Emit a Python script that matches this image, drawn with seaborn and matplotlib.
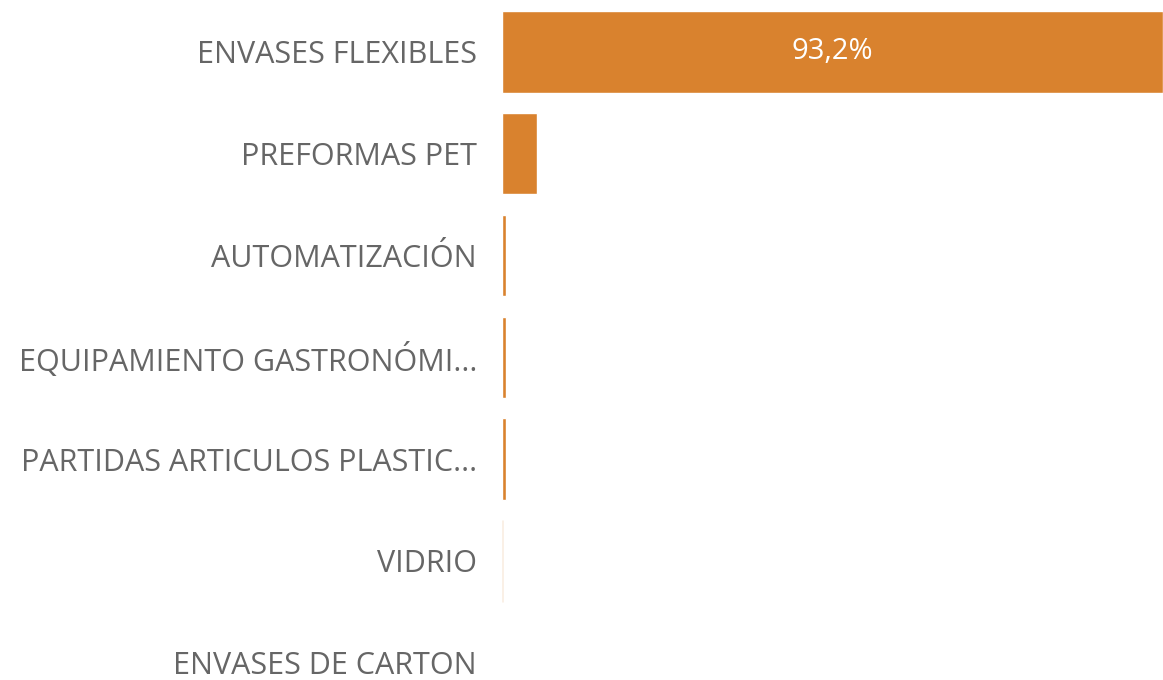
import matplotlib
matplotlib.use('Agg')
import matplotlib.pyplot as plt
import pandas as pd
import seaborn as sns

categorias = ['ENVASES FLEXIBLES', 'PREFORMAS PET', 'AUTOMATIZACIÓN',
              'EQUIPAMIENTO GASTRONÓMI...', 'PARTIDAS ARTICULOS PLASTIC...',
              'VIDRIO', 'ENVASES DE CARTON']
porcentajes = [93.2, 4.9, 0.6, 0.6, 0.5, 0.12, 0.05]

df = pd.DataFrame({'categoria': categorias, 'pct': porcentajes})

sns.set_theme(style='white')
plt.rcParams['font.family'] = ['Open Sans', 'DejaVu Sans']

fig = plt.figure(figsize=(11.63, 6.8), dpi=100)
ax = fig.add_axes([502 / 1163, 0, 661 / 1163, 1])

sns.barplot(data=df, x='pct', y='categoria', orient='h', color='#D9822E',
            saturation=1, width=0.8, ax=ax)

# barras casi nulas: se ven muy tenues en el original
for bar, v in zip(ax.patches, porcentajes):
    if v < 0.2:
        bar.set_alpha(0.35 if v > 0.1 else 0.15)

ax.set_xlim(0, max(porcentajes))
ax.set_ylim(6.17, -0.51)
ax.set_xlabel('')
ax.set_ylabel('')
ax.set_xticks([])
ax.tick_params(axis='y', length=0, pad=18, labelsize=22, labelcolor='#666666')
for s in ax.spines.values():
    s.set_visible(False)

# etiqueta de valor solo en la barra mayor
ax.text(porcentajes[0] / 2, 0, ('%.1f%%' % porcentajes[0]).replace('.', ','),
        ha='center', va='center', color='white', fontsize=21)

fig.savefig('out.png', dpi=100)
